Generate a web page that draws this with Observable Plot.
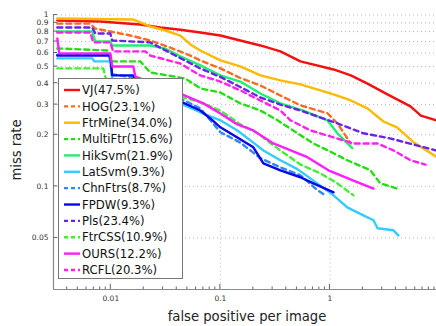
<!DOCTYPE html>
<html><head><meta charset="utf-8">
<script src="https://cdn.jsdelivr.net/npm/d3@7"></script>
<script src="https://cdn.jsdelivr.net/npm/@observablehq/plot@0.6"></script>
<style>
body{margin:0;background:#fff;font-family:"DejaVu Sans",sans-serif;}
#chart{position:relative;width:436px;height:326px;overflow:hidden;}
</style></head><body><div id="chart"></div>
<script>
// ---- data ----
const names  = ["VJ","HOG","FtrMine","MultiFtr","HikSvm","LatSvm","ChnFtrs","FPDW","Pls","FtrCSS","OURS","RCFL"];
const scores = ["47.5%","23.1%","34.0%","15.6%","21.9%","9.3%","8.7%","9.3%","23.4%","10.9%","12.2%","20.3%"];
const colors = ["#f41010","#ff6a1e","#ffb900","#22e010","#1ff070","#33ccff","#2f86ff","#0808e8","#6a22ee","#44ee33","#ff1eff","#ff22ee"];
const dashed = [false,true,false,true,false,false,true,false,true,true,false,true];

const vjFppi = [0.00325,0.0080,0.0186,0.0283,0.0431,0.0656,0.1,0.152,0.232,0.353,0.538,1.08,1.55,2.18,3.35,5.43,6.76,10];
const vjMiss = [0.929,0.917,0.880,0.845,0.820,0.790,0.759,0.710,0.664,0.613,0.536,0.481,0.444,0.399,0.344,0.293,0.259,0.240];

const hogFppi = [0.00325,0.0065,0.0072,0.0151,0.0229,0.0328,0.0532,0.0656,0.1,0.152,0.232,0.353,0.538,0.95,1.17,1.55];
const hogMiss = [0.891,0.891,0.834,0.759,0.710,0.655,0.580,0.543,0.488,0.429,0.388,0.339,0.297,0.267,0.233,0.178];

const ftrmineFppi = [0.00325,0.0161,0.0229,0.0315,0.0431,0.0532,0.0656,0.1,0.152,0.232,0.353,0.538,1.08,1.55,2.20,3.08,4.1,5.79,10];
const ftrmineMiss = [0.955,0.941,0.857,0.812,0.759,0.673,0.621,0.543,0.501,0.444,0.415,0.394,0.344,0.317,0.285,0.239,0.221,0.181,0.145];

const multiftrFppi = [0.00325,0.0093,0.0099,0.0186,0.0229,0.0479,0.0656,0.1,0.152,0.232,0.332,0.505,0.707,1.08,1.44,2.34,2.89,4.13];
const multiftrMiss = [0.638,0.621,0.536,0.536,0.462,0.426,0.373,0.353,0.305,0.277,0.243,0.204,0.178,0.156,0.142,0.124,0.104,0.097];

const hiksvmFppi = [0.00325,0.00678,0.00722,0.0099,0.0103,0.0229,0.031,0.0431,0.0656,0.1,0.152,0.232,0.353,0.573,0.949,1.17,1.60];
const hiksvmMiss = [0.801,0.801,0.700,0.700,0.664,0.664,0.638,0.573,0.508,0.444,0.409,0.348,0.305,0.277,0.243,0.204,0.167];

const latsvmFppi = [0.00325,0.00678,0.00707,0.0099,0.0103,0.0431,0.070,0.1,0.143,0.2,0.247,0.353,0.505,0.707,1.08,1.44,2.02,2.50,2.72,3.80,4.22];
const latsvmMiss = [0.558,0.558,0.536,0.536,0.426,0.305,0.266,0.243,0.212,0.180,0.162,0.142,0.126,0.108,0.0886,0.0754,0.0677,0.0634,0.0569,0.0554,0.0518];

const chnftrsFppi = [0.00325,0.0099,0.0103,0.01674,0.0431,0.0656,0.1,0.152,0.232,0.353,0.538,0.74,0.93];
const chnftrsMiss = [0.585,0.585,0.450,0.430,0.326,0.285,0.207,0.180,0.146,0.129,0.116,0.097,0.0875];

const fpdwFppi = [0.00325,0.0099,0.0103,0.01606,0.01674,0.0431,0.0656,0.081,0.1,0.143,0.2,0.247,0.353,0.538,0.707,1.08];
const fpdwMiss = [0.580,0.580,0.444,0.444,0.409,0.313,0.277,0.249,0.221,0.193,0.169,0.136,0.124,0.113,0.104,0.0923];

const plsFppi = [0.00325,0.00678,0.00722,0.0099,0.0103,0.0229,0.0388,0.0656,0.1,0.152,0.232,0.353,0.538,1.17,2.02,3.60,6.30,10];
const plsMiss = [0.845,0.845,0.780,0.780,0.710,0.692,0.580,0.488,0.435,0.380,0.330,0.300,0.277,0.233,0.204,0.190,0.173,0.160];

const ftrcssFppi = [0.00325,0.00854,0.0091,0.0186,0.0431,0.0656,0.1,0.152,0.218,0.353,0.538,0.82,1.17,1.64];
const ftrcssMiss = [0.488,0.488,0.415,0.388,0.335,0.309,0.277,0.230,0.204,0.162,0.134,0.119,0.104,0.0886];

const oursFppi = [0.00325,0.00339,0.0099,0.0103,0.01606,0.01674,0.0431,0.070,0.1,0.143,0.2,0.305,0.623,0.97,1.64,2.50];
const oursMiss = [0.729,0.597,0.597,0.501,0.501,0.437,0.348,0.305,0.266,0.230,0.212,0.178,0.148,0.124,0.108,0.097];

const rcflFppi = [0.00325,0.0065,0.00692,0.0099,0.0105,0.0207,0.0229,0.0431,0.0656,0.1,0.152,0.232,0.353,0.436,0.664,1.08,1.64,2.70,3.80,5.43,7.45];
const rcflMiss = [0.790,0.790,0.692,0.692,0.613,0.613,0.580,0.521,0.444,0.409,0.363,0.317,0.277,0.243,0.212,0.193,0.178,0.178,0.162,0.142,0.134];

const xTicks = [0.01, 0.1, 1];
const yTicks = [0.05, 0.1, 0.2, 0.3, 0.4, 0.5, 0.6, 0.7, 0.8, 0.9, 1];
const xLabel = "false positive per image";
const yLabel = "miss rate";

// ---- build ----
const fppiLists = [vjFppi,hogFppi,ftrmineFppi,multiftrFppi,hiksvmFppi,latsvmFppi,chnftrsFppi,fpdwFppi,plsFppi,ftrcssFppi,oursFppi,rcflFppi];
const missLists = [vjMiss,hogMiss,ftrmineMiss,multiftrMiss,hiksvmMiss,latsvmMiss,chnftrsMiss,fpdwMiss,plsMiss,ftrcssMiss,oursMiss,rcflMiss];
const xDomain = [0.003, 10];
const yDomain = [0.025, 1];
const xMinor = [];
for (const d of [0.001, 0.01, 0.1, 1]) for (let m = 2; m <= 9; m++) { const v = d * m; if (v > xDomain[0] && v < xDomain[1]) xMinor.push(v); }

const lineMarks = names.map((n, i) => Plot.line(
  fppiLists[i].map((f, j) => ({fppi: f, miss: missLists[i][j]})),
  {x: "fppi", y: "miss", stroke: colors[i], strokeWidth: 2.4, strokeDasharray: dashed[i] ? "5,4" : null}
));

const W = 436, H = 326;
const plot = Plot.plot({
  width: W, height: H,
  marginLeft: 53, marginRight: -3, marginTop: 14.5, marginBottom: 37,
  x: {type: "log", domain: xDomain, axis: null},
  y: {type: "log", domain: yDomain, axis: null},
  style: {fontFamily: "DejaVu Sans, sans-serif", background: "#fff", overflow: "hidden"},
  marks: [
    Plot.ruleY(yTicks, {stroke: "#b8b8b8", strokeDasharray: "1,3"}),
    Plot.ruleX(xTicks, {stroke: "#b8b8b8", strokeDasharray: "1,3"}),
    ...lineMarks,
    Plot.ruleX([xDomain[0]], {stroke: "#8a8a8a", strokeWidth: 1.2}),
    Plot.ruleY([yDomain[0]], {stroke: "#8a8a8a", strokeWidth: 1.2}),
    Plot.text(xTicks, {x: d => d, y: yDomain[0], text: d => String(d), dy: 9, fontSize: 7.5, fill: "#333"}),
    Plot.text(yTicks, {x: xDomain[0], y: d => d, text: d => String(d), dx: -5, textAnchor: "end", fontSize: 7.5, fill: "#333"})
  ]
});
document.getElementById("chart").appendChild(plot);

const svg = d3.select(plot);
const sx = plot.scale("x"), sy = plot.scale("y");
const x0 = sx.apply(xDomain[0]), y0 = sy.apply(yDomain[0]);
// inward tick marks via the plot's scales
const tg = svg.append("g").attr("stroke", "#666").attr("stroke-width", 1);
xTicks.forEach(v => tg.append("line").attr("x1", sx.apply(v)).attr("x2", sx.apply(v)).attr("y1", y0).attr("y2", y0 - 5));
xMinor.forEach(v => tg.append("line").attr("x1", sx.apply(v)).attr("x2", sx.apply(v)).attr("y1", y0).attr("y2", y0 - 2.5));
yTicks.forEach(v => tg.append("line").attr("y1", sy.apply(v)).attr("y2", sy.apply(v)).attr("x1", x0).attr("x2", x0 + 4));

// axis titles
svg.append("text").attr("x", 247).attr("y", 321).attr("text-anchor", "middle")
  .attr("font-size", 13.2).attr("fill", "#222").text(xLabel);
svg.append("text").attr("transform", "translate(21,150) rotate(-90)").attr("text-anchor", "middle")
  .attr("font-size", 13.2).attr("fill", "#222").text(yLabel);

// legend
const lg = svg.append("g").attr("text-anchor", "start");
const lx = 58.5, ly = 78.5, lw = 124, lh = 200, rowH = 16.36, firstY = 90;
lg.append("rect").attr("x", lx).attr("y", ly).attr("width", lw).attr("height", lh)
  .attr("fill", "#fff").attr("stroke", "#777").attr("stroke-width", 1);
names.forEach((n, i) => {
  const cy = firstY + i * rowH;
  lg.append("line").attr("x1", 64).attr("x2", 80).attr("y1", cy).attr("y2", cy)
    .attr("stroke", colors[i]).attr("stroke-width", 2.4)
    .attr("stroke-dasharray", dashed[i] ? "4,3" : null);
  lg.append("text").attr("x", 82).attr("y", cy).attr("dy", "0.36em").attr("text-anchor", "start")
    .attr("font-size", 11.7).attr("fill", "#111").text(`${n}(${scores[i]})`);
});
</script></body></html>
